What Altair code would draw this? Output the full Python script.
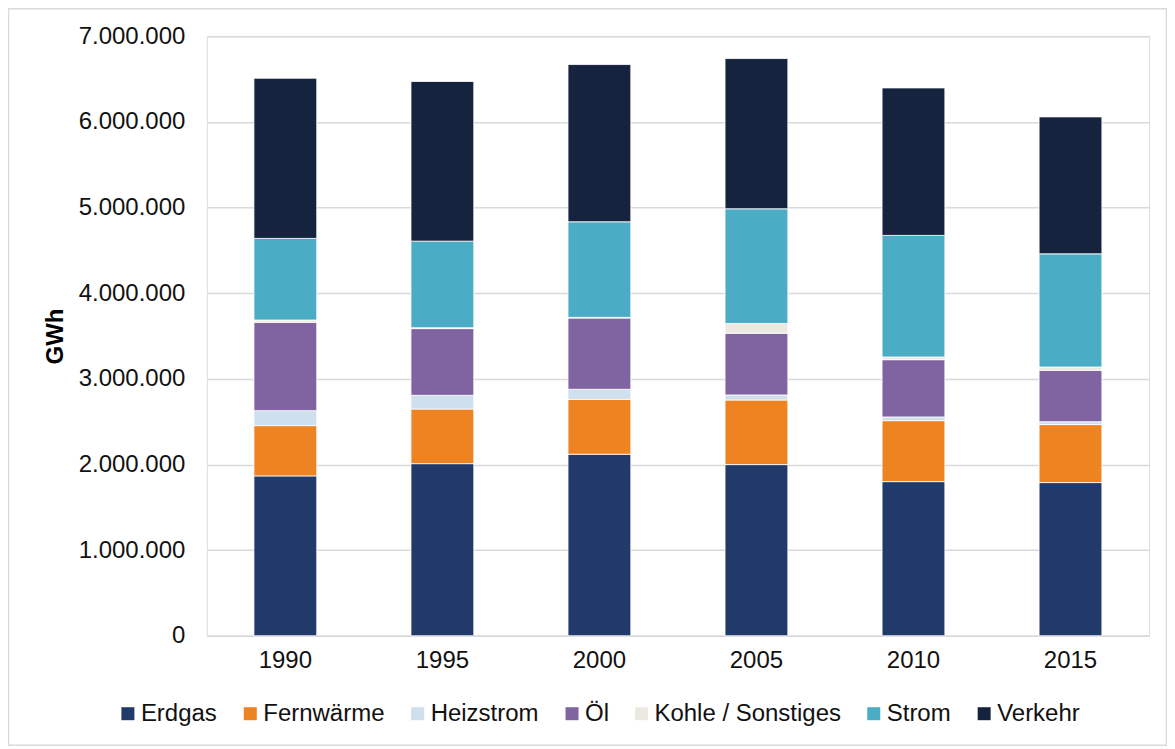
import altair as alt
import pandas as pd

years = ["1990", "1995", "2000", "2005", "2010", "2015"]
categories = ["Erdgas", "Fernwärme", "Heizstrom", "Öl", "Kohle / Sonstiges", "Strom", "Verkehr"]
colors = ["#223A6A", "#EE8322", "#CEDFEE", "#8064A1", "#ECEAE0", "#4BACC6", "#16233F"]

erdgas = [1867000, 2010000, 2120000, 1999000, 1800000, 1789000]
fernwaerme = [587000, 638000, 641000, 754000, 712000, 677000]
heizstrom = [175000, 160000, 117000, 59000, 43000, 34000]
oel = [1031000, 779000, 832000, 720000, 669000, 600000]
kohle = [27000, 10000, 8000, 115000, 31000, 38000]
strom = [953000, 1011000, 1116000, 1339000, 1420000, 1322000]
verkehr = [1870000, 1864000, 1836000, 1754000, 1722000, 1599000]

y_ticks = [0, 1000000, 2000000, 3000000, 4000000, 5000000, 6000000, 7000000]

series = [erdgas, fernwaerme, heizstrom, oel, kohle, strom, verkehr]
rows = []
for ci, (cat, vals) in enumerate(zip(categories, series)):
    for yr, v in zip(years, vals):
        rows.append({"Jahr": yr, "Kategorie": cat, "GWh": v, "idx": ci})
df = pd.DataFrame(rows)

FONT = "Liberation Sans"

bars = alt.Chart(df).mark_bar(stroke="white", strokeWidth=0.8).encode(
    x=alt.X("Jahr:N", sort=years, title=None,
            scale=alt.Scale(paddingInner=0.6, paddingOuter=0.3),
            axis=alt.Axis(labelAngle=0, ticks=False, domainColor="#d9d9d9", domainWidth=1.5,
                          labelFontSize=24, labelFont=FONT, labelColor="#111111", labelPadding=13)),
    y=alt.Y("GWh:Q", stack="zero", title="GWh",
            scale=alt.Scale(domain=[0, 7000000], nice=False),
            axis=alt.Axis(values=y_ticks, domain=False, ticks=False, grid=True,
                          gridColor="#d9d9d9", gridWidth=1.5,
                          labelExpr="replace(format(datum.value, ','), regexp(',', 'g'), '.')",
                          labelFontSize=24, labelFont=FONT, labelColor="#111111", labelPadding=22,
                          titleFontSize=24, titleFont=FONT, titleFontWeight="bold", titleColor="#000000",
                          titleX=-151, titleY=300, titleAngle=270, titleAlign="center",
                          titleBaseline="middle")),
    color=alt.Color("Kategorie:N", sort=categories,
                    scale=alt.Scale(domain=categories, range=colors),
                    legend=alt.Legend(title=None, orient="none", direction="horizontal",
                                      legendX=-91, legendY=666,
                                      symbolType="square", symbolSize=169, symbolStrokeWidth=0,
                                      symbolOpacity=1, labelLimit=400,
                                      labelFontSize=24, labelFont=FONT, labelColor="#111111",
                                      labelOffset=1, columnPadding=20.5)),
    order=alt.Order("idx:Q", sort="ascending"),
)

border = alt.Chart(pd.DataFrame({"a": [0]})).mark_rect(
    fillOpacity=0, stroke="#d9d9d9", strokeWidth=1.5
).encode(
    x=alt.value(-198.5), x2=alt.value(960.5), y=alt.value(-27.5), y2=alt.value(709.5)
)

chart = alt.layer(border, bars).properties(
    width=943, height=600,
    padding={"left": 199, "top": 28, "right": 18, "bottom": 110},
    autosize=alt.AutoSizeParams(type="none"),
).configure_view(stroke=None).configure(background="white")

chart.save("out.html", embed_options={"renderer": "svg", "actions": False})
